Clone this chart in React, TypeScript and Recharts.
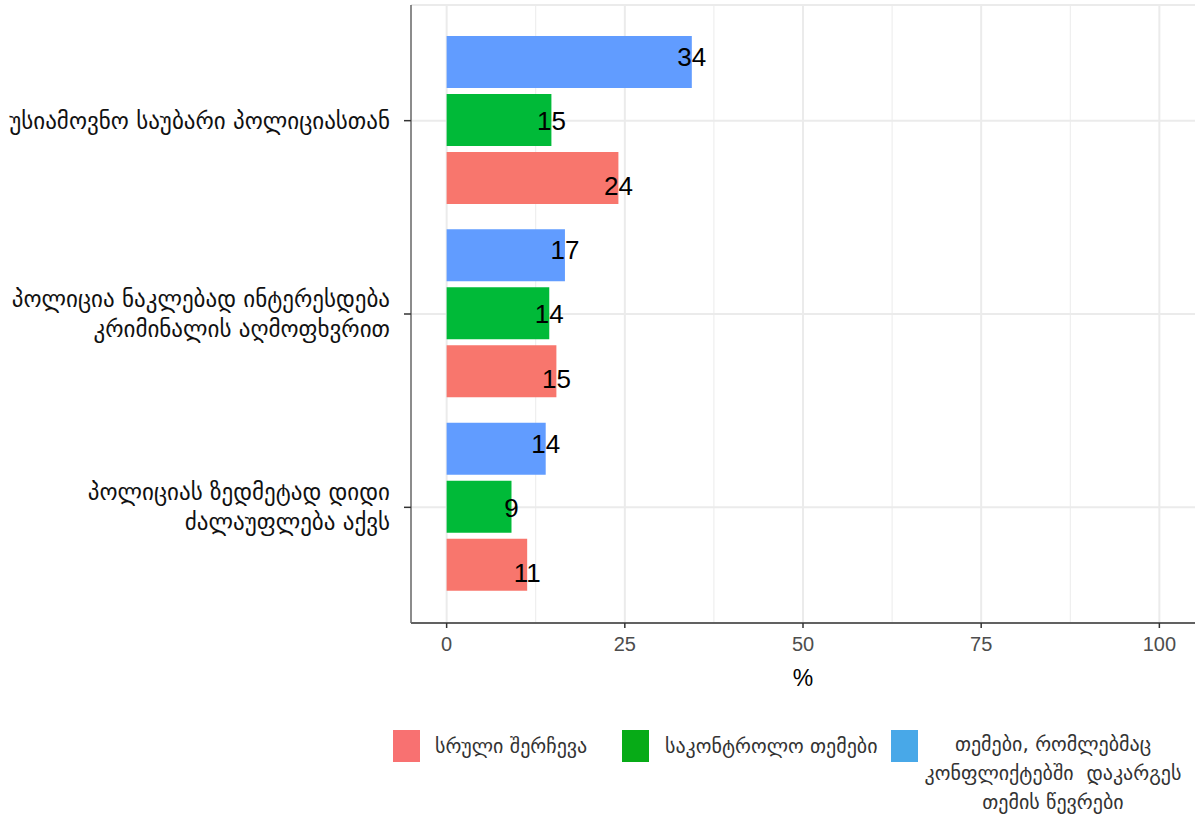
import {
  BarChart, Bar, XAxis, YAxis, CartesianGrid, LabelList,
} from 'recharts'

const categories = [
  'უსიამოვნო საუბარი პოლიციასთან',
  'პოლიცია ნაკლებად ინტერესდება\nკრიმინალის აღმოფხვრით',
  'პოლიციას ზედმეტად დიდი\nძალაუფლება აქვს',
]
const fullSample = [24.1, 15.4, 11.3]
const controlGroup = [14.7, 14.4, 9.1]
const lostMembers = [34.4, 16.6, 13.9]
const xDomain = [-5, 105]
const xTicks = [0, 25, 50, 75, 100]
const xMinor = [12.5, 37.5, 62.5, 87.5]

const legendItems = [
  { name: 'სრული შერჩევა', color: '#F87171' },
  { name: 'საკონტროლო თემები', color: '#07AB17' },
  { name: 'თემები, რომლებმაც\nკონფლიქტებში  დაკარგეს\nთემის წევრები', color: '#48A8E8' },
]

const data = categories.map((name, i) => ({
  name,
  lost: lostMembers[i],
  control: controlGroup[i],
  full: fullSample[i],
}))

const GEO = "'DejaVu Sans', 'Noto Sans', sans-serif"
const NUM = "'Liberation Sans', Arial, sans-serif"
const NARROW = "'Liberation Sans Narrow', 'Liberation Sans', Arial, sans-serif"

function YTick(props: any) {
  const { y, payload } = props
  const lines = String(payload.value).split('\n')
  const lh = 30
  const y0 = y - ((lines.length - 1) * lh) / 2
  return (
    <text x={390} y={y0} textAnchor="end" fontFamily={GEO} fontSize={23} fill="#111">
      {lines.map((l, i) => (
        <tspan key={i} x={390} y={y0 + i * lh} dominantBaseline="central">{l}</tspan>
      ))}
    </text>
  )
}

function XTick(props: any) {
  const { x, y, payload } = props
  return (
    <text x={x} y={y} textAnchor="middle" dy="0.71em" fontFamily={NARROW} fontSize={20} fill="#4d4d4d">
      {payload.value}
    </text>
  )
}

function makeLabel(dy: number) {
  return (props: any) => {
    const { x, y, width, height, value } = props
    return (
      <text x={x + width} y={y + height / 2 + dy} textAnchor="middle" dominantBaseline="central"
        fontFamily={NUM} fontSize={26} fill="#000">
        {Math.round(value)}
      </text>
    )
  }
}

// map values to pixels with the axis scale when it is exposed, else with the plot offset
function gridGen(values: number[]) {
  return (args: any) => {
    const s = args?.xAxis?.scale
    if (typeof s === 'function') return values.map((v) => s(v))
    if (s && typeof s.map === 'function') return values.map((v) => s.map(v))
    if (s && typeof s.scale === 'function') return values.map((v) => s.scale(v))
    const off = args.offset
    return values.map((v) => off.left + ((v - xDomain[0]) / (xDomain[1] - xDomain[0])) * off.width)
  }
}

export default function App() {
  return (
    <div style={{ position: 'absolute', left: 0, top: 0, width: 1198, height: 817, background: '#fff' }}>
      <BarChart
        width={1198}
        height={700}
        data={data}
        layout="vertical"
        margin={{ top: 5, right: 3, bottom: 0, left: 0 }}
        barCategoryGap={12}
        barGap={6}
      >
        <CartesianGrid horizontal={false} vertical stroke="#ebebeb" strokeWidth={1}
          verticalCoordinatesGenerator={gridGen(xMinor)} />
        <CartesianGrid horizontal vertical stroke="#ebebeb" strokeWidth={2}
          verticalCoordinatesGenerator={gridGen(xTicks)} />
        <XAxis
          type="number"
          domain={xDomain}
          ticks={xTicks}
          allowDataOverflow
          height={77}
          tickSize={5}
          tickMargin={9}
          tick={<XTick />}
          axisLine={{ stroke: '#333', strokeWidth: 1.5 }}
          tickLine={{ stroke: '#333', strokeWidth: 1.5 }}
          label={({ viewBox }: any) => (
            <text x={viewBox.x + viewBox.width / 2} y={viewBox.y + 55} textAnchor="middle"
              dominantBaseline="central" fontFamily={NUM} fontSize={23} fill="#000">%</text>
          )}
        />
        <XAxis xAxisId="top" orientation="top" type="number" domain={xDomain} height={0}
          tick={false} tickLine={false} axisLine={{ stroke: '#666', strokeWidth: 1.5 }} />
        <YAxis
          type="category"
          dataKey="name"
          width={411}
          tickSize={7}
          padding={{ top: 19, bottom: 19 }}
          tick={<YTick />}
          interval={0}
          axisLine={{ stroke: '#666', strokeWidth: 1.5 }}
          tickLine={{ stroke: '#333', strokeWidth: 1.5 }}
        />
        <YAxis yAxisId="right" orientation="right" type="category" dataKey="name" width={0}
          tick={false} tickLine={false} axisLine={{ stroke: '#666', strokeWidth: 1.5 }} />
        <Bar dataKey="lost" fill="#619CFF" isAnimationActive={false}>
          <LabelList dataKey="lost" content={makeLabel(-5)} />
        </Bar>
        <Bar dataKey="control" fill="#00BA38" isAnimationActive={false}>
          <LabelList dataKey="control" content={makeLabel(1)} />
        </Bar>
        <Bar dataKey="full" fill="#F8766D" isAnimationActive={false}>
          <LabelList dataKey="full" content={makeLabel(8)} />
        </Bar>
      </BarChart>
      {legendItems.map((item, i) => {
        const lefts = [393, 622, 891]
        const textLefts = [435, 665, 913]
        const lines = item.name.split('\n')
        return (
          <div key={i}>
            <div style={{
              position: 'absolute', left: lefts[i], top: 730, width: 27, height: 32,
              background: item.color,
            }} />
            <div style={{
              position: 'absolute', left: textLefts[i], top: lines.length > 1 ? 730 : 732,
              fontFamily: GEO, fontSize: 20, color: '#333', lineHeight: '29px',
              textAlign: 'center', whiteSpace: 'pre',
              width: lines.length > 1 ? 280 : undefined,
            }}>
              {item.name}
            </div>
          </div>
        )
      })}
    </div>
  )
}
